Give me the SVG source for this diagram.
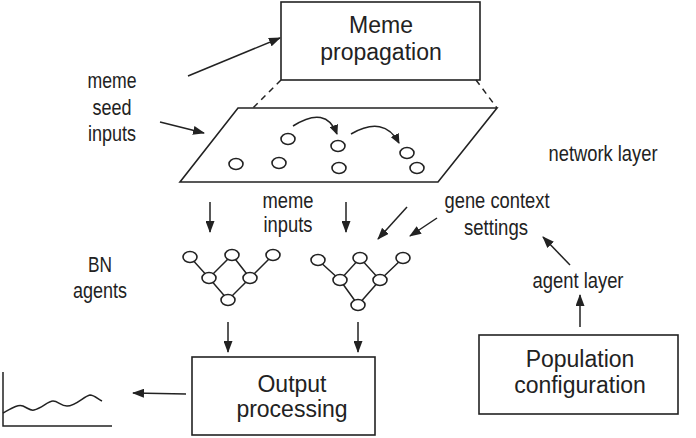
<svg xmlns="http://www.w3.org/2000/svg" width="696" height="438" viewBox="0 0 696 438">
<defs>
<style>
.box{fill:#fff;stroke:#222;stroke-width:1.6}
.ln{fill:none;stroke:#222;stroke-width:1.5}
.arr{fill:none;stroke:#222;stroke-width:1.5;marker-end:url(#ah)}
.nd{fill:#fff;stroke:#222;stroke-width:1.6}
.big{font-family:"Liberation Sans",Arial,sans-serif;font-size:23px;fill:#222;text-anchor:middle}
.lbl{font-family:"Liberation Sans",Arial,sans-serif;font-size:22.5px;fill:#222;text-anchor:middle}
</style>
<marker id="ah" markerUnits="userSpaceOnUse" markerWidth="12" markerHeight="9" refX="11" refY="4.5" orient="auto">
<path d="M0,0 L12,4.5 L0,9 Z" fill="#222"/>
</marker>
<marker id="ahs" markerUnits="userSpaceOnUse" markerWidth="10" markerHeight="9" refX="9" refY="4.5" orient="auto">
<path d="M0,0 L10,4.5 L0,9 Z" fill="#222"/>
</marker>
</defs>

<g id="meme-propagation">
<rect class="box" x="281" y="2" width="199" height="78"/>
<text class="big" x="381" y="33">Meme</text>
<text class="big" x="381" y="60">propagation</text>
</g>

<g id="network-layer">
<polygon class="box" points="238,108 497,108 438,182 180,182"/>
<line class="ln" x1="281" y1="80" x2="253" y2="108" stroke-dasharray="6,5"/>
<line class="ln" x1="476" y1="80" x2="497" y2="108" stroke-dasharray="6,5"/>
<ellipse class="nd" cx="288" cy="139" rx="7" ry="5.5"/>
<ellipse class="nd" cx="338" cy="146" rx="7" ry="5.5"/>
<ellipse class="nd" cx="236" cy="164" rx="7" ry="5.5"/>
<ellipse class="nd" cx="279" cy="163" rx="7" ry="5.5"/>
<ellipse class="nd" cx="339" cy="168" rx="7" ry="5.5"/>
<ellipse class="nd" cx="407" cy="153" rx="7" ry="5.5"/>
<ellipse class="nd" cx="417" cy="168" rx="7" ry="5.5"/>
<path class="ln" d="M293,126 Q326,105 337,134" marker-end="url(#ahs)"/>
<path class="ln" d="M351,134 Q384,115 399,143" marker-end="url(#ahs)"/>
<text class="lbl" x="603" y="161" textLength="109" lengthAdjust="spacingAndGlyphs">network layer</text>
</g>

<g id="meme-seed-inputs">
<text class="lbl" x="112" y="88" textLength="49" lengthAdjust="spacingAndGlyphs">meme</text>
<text class="lbl" x="112" y="115" textLength="39" lengthAdjust="spacingAndGlyphs">seed</text>
<text class="lbl" x="112" y="141" textLength="48" lengthAdjust="spacingAndGlyphs">inputs</text>
</g>

<g id="bn-agents-label">
<text class="lbl" x="100" y="272" textLength="24" lengthAdjust="spacingAndGlyphs">BN</text>
<text class="lbl" x="100" y="298" textLength="54" lengthAdjust="spacingAndGlyphs">agents</text>
</g>

<g id="meme-inputs">
<text class="lbl" x="288" y="208" textLength="51" lengthAdjust="spacingAndGlyphs">meme</text>
<text class="lbl" x="288" y="232" textLength="49" lengthAdjust="spacingAndGlyphs">inputs</text>
</g>

<g id="gene-context">
<text class="lbl" x="497" y="208" textLength="105" lengthAdjust="spacingAndGlyphs">gene context</text>
<text class="lbl" x="496" y="235" textLength="64" lengthAdjust="spacingAndGlyphs">settings</text>
</g>

<g id="agent-layer">
<text class="lbl" x="578" y="288" textLength="91" lengthAdjust="spacingAndGlyphs">agent layer</text>
</g>

<g id="bn-agent-1">
<path class="ln" d="M190,257 L209,278 L232,255 L250,278 L273,255 M209,278 L228,300 L250,278"/>
<ellipse class="nd" cx="190" cy="257" rx="7" ry="5.5"/>
<ellipse class="nd" cx="232" cy="255" rx="7" ry="5.5" stroke-width="2.1"/>
<ellipse class="nd" cx="273" cy="255" rx="7" ry="5.5"/>
<ellipse class="nd" cx="209" cy="278" rx="7" ry="5.5"/>
<ellipse class="nd" cx="250" cy="278" rx="7" ry="5.5"/>
<ellipse class="nd" cx="228" cy="300" rx="7" ry="5.5"/>
</g>

<g id="bn-agent-2">
<path class="ln" d="M318,260 L340,280 L360,258 L380,280 L403,258 M340,280 L358,305 L380,280"/>
<ellipse class="nd" cx="318" cy="260" rx="7" ry="5.5"/>
<ellipse class="nd" cx="360" cy="258" rx="7" ry="5.5" stroke-width="2.1"/>
<ellipse class="nd" cx="403" cy="258" rx="7" ry="5.5"/>
<ellipse class="nd" cx="340" cy="280" rx="7" ry="5.5"/>
<ellipse class="nd" cx="380" cy="280" rx="7" ry="5.5"/>
<ellipse class="nd" cx="358" cy="305" rx="7" ry="5.5"/>
</g>

<g id="output-processing">
<rect class="box" x="192" y="357" width="183" height="78"/>
<text class="big" x="292" y="392">Output</text>
<text class="big" x="292" y="417">processing</text>
</g>

<g id="population-configuration">
<rect class="box" x="479" y="335" width="199" height="79"/>
<text class="big" x="580" y="367">Population</text>
<text class="big" x="580" y="393">configuration</text>
</g>

<g id="chart">
<path class="ln" d="M3,372 L3,426 L112,426" stroke-width="1.8"/>
<path class="ln" d="M3,413 C12,408 18,404 23,406 C28,408 30,411 34,410 C42,408 48,401 53,401 C58,401 61,406 67,406 C76,406 84,396 90,395 C94,395 98,399 102,401" stroke-width="1.8"/>
</g>

<g id="connectors">
<line class="arr" x1="188" y1="76" x2="280" y2="38"/>
<line class="arr" x1="160" y1="122" x2="204" y2="133"/>
<line class="arr" x1="210" y1="202" x2="210" y2="232"/>
<line class="arr" x1="346" y1="202" x2="346" y2="232"/>
<line class="arr" x1="407" y1="207" x2="378" y2="239"/>
<line class="arr" x1="437" y1="218" x2="410" y2="236"/>
<line class="arr" x1="228" y1="322" x2="228" y2="352"/>
<line class="arr" x1="358" y1="322" x2="358" y2="352"/>
<line class="arr" x1="186" y1="394" x2="133" y2="393"/>
<line class="arr" x1="580" y1="327" x2="580" y2="295"/>
<line class="arr" x1="570" y1="265" x2="543" y2="237"/>
</g>
</svg>
